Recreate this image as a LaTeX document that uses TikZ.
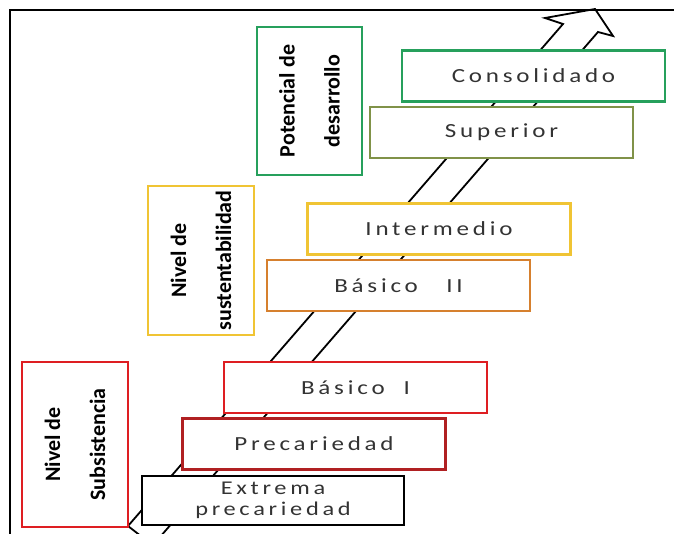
\documentclass[tikz,border=0pt]{standalone}
\usepackage{fontspec}
\setmainfont{Carlito}
\newfontfamily\etapafont{Carlito}[FakeStretch=1.25,LetterSpace=19]
\usepackage{tikz}
\definecolor{verdenivel}{RGB}{38,160,92}
\definecolor{oliva}{RGB}{128,146,72}
\definecolor{oro}{RGB}{240,196,52}
\definecolor{naranja}{RGB}{214,128,46}
\definecolor{rojonivel}{RGB}{222,30,34}
\definecolor{granate}{RGB}{176,32,34}
\tikzset{
  etapa/.style={draw=#1, fill=white, line width=2.6pt, minimum width=263pt,
    minimum height=51pt, inner sep=0pt, align=center,
    font=\etapafont\fontsize{20}{21}\selectfont, text=black!80},
  nivel/.style={draw=#1, fill=white, line width=2.6pt, rotate=90,
    inner sep=0pt, align=center, font=\bfseries\fontsize{22}{45}\selectfont}
}

\begin{document}
\begin{tikzpicture}[x=1pt,y=-1pt]
			\useasboundingbox (0,0) rectangle (674,534);
			\clip (0,0) rectangle (674,534);
			\draw[line width=2pt] (10,534) -- (10,10) -- (674,10);
			
			% flecha de fondo
			\draw[line width=1.8pt, line join=miter]
			  (146,540) -- (128,526) -- (563,24) -- (545,18) -- (595,9)
			  -- (613,36) -- (598,32) -- (160,537);
			
			\node[etapa=verdenivel] (cons) at (533.5,76) {Consolidado};
			\node[etapa=oliva] (sup) at (501.5,132.5) {Superior};
			\node[etapa=oro] (inter) at (439,229) {Intermedio};
			\node[etapa=naranja] (bas2) at (398.5,285.5) {Básico\ \ \ II};
			\node[etapa=rojonivel] (bas1) at (355.5,387.5) {Básico\ \ I};
			\node[etapa=granate] (prec) at (314,444) {Precariedad};
			\node[etapa=black, minimum width=262pt, minimum height=49pt, font=\etapafont\fontsize{19.5}{21}\selectfont] (ext) at (273,500.5) {Extrema\\precariedad};
			
			\node[nivel=rojonivel, minimum width=165pt, minimum height=106pt] (subs) at (75,444.5) {Nivel de\\Subsistencia};
			\node[nivel=oro, minimum width=149pt, minimum height=106pt] (sust) at (201,260.5) {Nivel de\\sustentabilidad};
			\node[nivel=verdenivel, minimum width=148pt, minimum height=105pt] (pot) at (309.5,101) {Potencial de\\desarrollo};
			
		\end{tikzpicture}
\end{document}
